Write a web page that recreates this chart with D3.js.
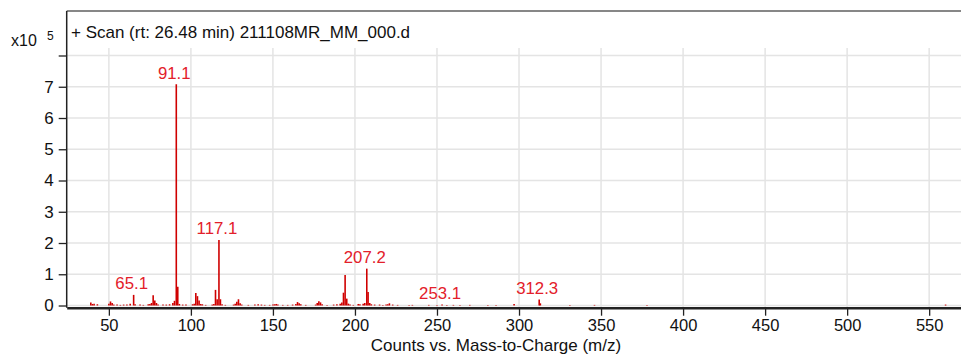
<!DOCTYPE html>
<html><head><meta charset="utf-8">
<script src="https://cdn.jsdelivr.net/npm/d3@7"></script>
<style>body{margin:0;background:#fff;}svg{display:block;font-family:"Liberation Sans",Arial,sans-serif;}</style>
</head><body>
<svg id="c" width="961" height="356"></svg>
<script>
const title = "+ Scan (rt: 26.48 min) 211108MR_MM_000.d";
const xTitle = "Counts vs. Mass-to-Charge (m/z)";
const xTicks = [50,100,150,200,250,300,350,400,450,500,550];
const yTicks = [0,1,2,3,4,5,6,7,8];
const yTickLabels = ["0","1","2","3","4","5","6","7",""];
const mz = [39,40,41,43,50,51,52,53,55,57,59,61,63,65.1,66,69,71,74,75,76,77,78,79,80,83,85,87,89,90,91.1,92,93,95,97,101,102,103,104,105,106,107,109,113,114,115,116,117.1,118,119,121,126,127,128,129,130,131,135,139,141,143,145,148,150,151,152,153,156,159,162,164,165,166,167,170,176,177,178,179,180,183,187,189,191,192,193,194,195,196,197,199,202,203,205,206,207.2,208,209,210,212,215,217,219,220,221,223,226,233,235,245,250,253.1,256,260,264,270,281,286,297,312.3,313,331,346,378,560];
const intensity = [0.10,0.05,0.06,0.04,0.06,0.13,0.08,0.03,0.03,0.02,0.03,0.03,0.06,0.34,0.04,0.03,0.02,0.04,0.05,0.08,0.33,0.16,0.08,0.03,0.03,0.03,0.04,0.08,0.15,7.08,0.60,0.05,0.03,0.03,0.04,0.06,0.40,0.30,0.16,0.05,0.04,0.02,0.03,0.05,0.50,0.20,2.10,0.20,0.04,0.02,0.03,0.06,0.12,0.20,0.07,0.03,0.02,0.03,0.04,0.03,0.02,0.02,0.03,0.04,0.05,0.03,0.02,0.02,0.03,0.05,0.11,0.07,0.04,0.02,0.03,0.08,0.14,0.10,0.04,0.02,0.03,0.04,0.06,0.10,0.41,0.98,0.22,0.06,0.03,0.02,0.05,0.04,0.06,0.08,1.18,0.43,0.08,0.04,0.03,0.03,0.02,0.03,0.04,0.07,0.03,0.02,0.02,0.02,0.02,0.02,0.03,0.02,0.02,0.02,0.02,0.02,0.02,0.05,0.19,0.07,0.02,0.02,0.02,0.03];
const labelMz = [65.1,91.1,117.1,207.2,253.1,312.3];
const labelText = ["65.1","91.1","117.1","207.2","253.1","312.3"];

const svg = d3.select("#c");
const L = 66.7, R = 961, T = 48, B = 307.7, TOP = 11;
const x = d3.scaleLinear().domain([24.3, 569.4]).range([L, R]);
const y = d3.scaleLinear().domain([-0.07, 8.24]).range([B, T]);
const grid = "#e4e4e4";

// grid
svg.append("g").selectAll("line").data(xTicks).join("line")
  .attr("x1", d => x(d)).attr("x2", d => x(d)).attr("y1", T).attr("y2", B)
  .attr("stroke", grid).attr("stroke-width", 1.5);
svg.append("g").selectAll("line").data(yTicks).join("line")
  .attr("x1", L).attr("x2", R).attr("y1", d => y(d)).attr("y2", d => y(d))
  .attr("stroke", grid).attr("stroke-width", 1.5);

// frame
svg.append("line").attr("x1", L).attr("x2", R).attr("y1", TOP).attr("y2", TOP).attr("stroke", "#111").attr("stroke-width", 1.2);
svg.append("line").attr("x1", L).attr("x2", L).attr("y1", TOP).attr("y2", B).attr("stroke", "#222").attr("stroke-width", 1.5);

// sticks
svg.append("g").selectAll("line").data(mz.map((m, i) => [m, intensity[i]])).join("line")
  .attr("x1", d => x(d[0])).attr("x2", d => x(d[0]))
  .attr("y1", y(0)).attr("y2", d => y(d[1]))
  .attr("stroke", "#cf0000").attr("stroke-width", 1.6);

// y axis
const ya = svg.append("g").attr("transform", `translate(${L},0)`)
  .call(d3.axisLeft(y).tickValues(yTicks).tickSize(8).tickPadding(5).tickFormat((d, i) => yTickLabels[i]));
ya.select(".domain").remove();
ya.selectAll(".tick line").attr("stroke", "#222").attr("stroke-width", 1.3);
ya.selectAll("text").attr("font-size", 17).attr("fill", "#111").attr("font-family", "Liberation Sans, Arial, sans-serif");

// x axis
const xa = svg.append("g").attr("transform", `translate(0,${B})`)
  .call(d3.axisBottom(x).tickValues(xTicks).tickSize(8).tickPadding(4).tickSizeOuter(0));
xa.select(".domain").attr("stroke", "#222").attr("stroke-width", 2.6);
xa.selectAll(".tick line").attr("stroke", "#222").attr("stroke-width", 1.3);
xa.selectAll("text").attr("font-size", 16.5).attr("fill", "#111").attr("font-family", "Liberation Sans, Arial, sans-serif");

// peak labels
svg.append("g").selectAll("text").data(labelMz).join("text")
  .attr("x", d => x(d) - 2).attr("y", d => y(intensity[mz.indexOf(d)]) - 5.5)
  .attr("text-anchor", "middle").attr("font-size", 16.8).attr("fill", "#e3202a")
  .text((d, i) => labelText[i]);

// title
svg.append("text").attr("x", 71).attr("y", 38).attr("font-size", 17).attr("fill", "#111").text(title);
svg.append("text").attr("x", 11).attr("y", 46).attr("font-size", 16).attr("fill", "#111").text("x10");
svg.append("text").attr("x", 47).attr("y", 40).attr("font-size", 12).attr("fill", "#111").text("5");
svg.append("text").attr("x", 496).attr("y", 351).attr("text-anchor", "middle").attr("font-size", 17).attr("fill", "#111").text(xTitle);
</script>
</body></html>
